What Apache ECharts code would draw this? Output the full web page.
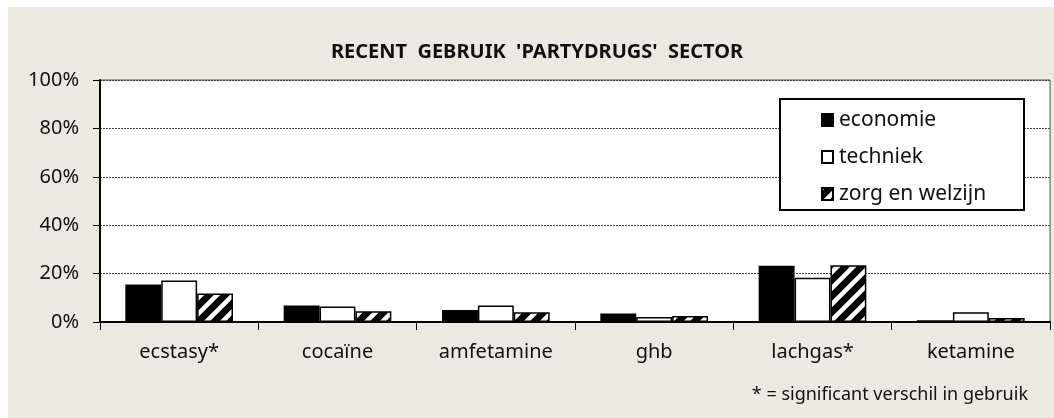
<!DOCTYPE html>
<html>
<head>
<meta charset="utf-8">
<style>
  html, body { margin: 0; padding: 0; background: #ffffff; }
  #chart { width: 1054px; height: 418px; }
</style>
<script src="https://cdn.jsdelivr.net/npm/echarts@6/dist/echarts.min.js"></script>
</head>
<body>
<div id="chart"></div>
<script>
// Drugs (categories) and recent-use share per sector, in percent
var categories = ['ecstasy*', 'cocaïne', 'amfetamine', 'ghb', 'lachgas*', 'ketamine'];
var economie = [15.5, 6.8, 5.0, 3.5, 23.2, 0.7];
var techniek = [17.1, 6.4, 6.8, 2.1, 18.3, 4.0];
var zorgEnWelzijn = [11.8, 4.4, 4.0, 2.5, 23.5, 1.7];
var seriesNames = ['economie', 'techniek', 'zorg en welzijn'];
var yTicks = [0, 20, 40, 60, 80, 100];

var FONT = '"Noto Sans", "Open Sans", sans-serif';

// Black fill with white diagonal stripes
function stripePattern() {
  var size = 16;
  var c = document.createElement('canvas');
  c.width = size; c.height = size;
  var g = c.getContext('2d');
  g.fillStyle = '#000';
  g.fillRect(0, 0, size, size);
  g.strokeStyle = '#fff';
  g.lineWidth = 4.5;
  g.beginPath();
  for (var k = -1; k <= 1; k++) {
    g.moveTo(k * size - 2, size + 2);
    g.lineTo(k * size + size + 2, -2);
  }
  g.stroke();
  return { image: c, repeat: 'repeat' };
}

var chart = echarts.init(document.getElementById('chart'));

var barBorder = { borderColor: '#000', borderWidth: 1.5 };

chart.setOption({
  backgroundColor: '#ffffff',
  animation: false,
  graphic: [
    {
      type: 'rect', z: -10, silent: true,
      shape: { x: 8, y: 7, width: 1046, height: 411 },
      style: { fill: '#ECE9E0' }
    },
    {
      // legend frame
      type: 'rect', z: 5, silent: true,
      shape: { x: 780, y: 99, width: 244, height: 111 },
      style: { fill: '#fff', stroke: '#000', lineWidth: 2 }
    },
    {
      type: 'text', right: 26, top: 386,
      style: {
        text: '* = significant verschil in gebruik',
        font: '18px ' + FONT, fill: '#111'
      }
    }
  ],
  title: {
    text: "RECENT  GEBRUIK  'PARTYDRUGS'  SECTOR",
    left: 532, top: 37, textAlign: 'center',
    textStyle: { fontFamily: FONT, fontSize: 20, fontWeight: 'bold', color: '#111' }
  },
  legend: {
    orient: 'vertical',
    left: 821, top: 109,
    padding: 0,
    itemGap: 15,
    itemWidth: 11, itemHeight: 12,
    icon: 'rect',
    z: 10,
    textStyle: { fontFamily: FONT, fontSize: 21, color: '#111', lineHeight: 22, padding: [0, 0, 0, 1] },
    data: seriesNames
  },
  grid: {
    left: 100, right: 4, top: 80, bottom: 96,
    show: true, backgroundColor: '#fff', borderColor: '#555', borderWidth: 1
  },
  xAxis: {
    type: 'category',
    data: categories,
    axisLine: { lineStyle: { color: '#000', width: 2 } },
    axisTick: { show: true, length: 8, lineStyle: { color: '#000', width: 1 } },
    axisLabel: { fontFamily: FONT, fontSize: 20, color: '#111', margin: 20 }
  },
  yAxis: {
    type: 'value',
    min: yTicks[0], max: yTicks[yTicks.length - 1], interval: 20,
    axisLine: { show: true, lineStyle: { color: '#000', width: 2 } },
    axisTick: { show: true, length: 7, lineStyle: { color: '#000', width: 1 } },
    axisLabel: { fontFamily: FONT, fontSize: 20, color: '#111', margin: 21, formatter: '{value}%' },
    splitLine: { show: true, lineStyle: { color: '#444', type: [2, 1], width: 1 } }
  },
  series: [
    {
      name: seriesNames[0], type: 'bar', data: economie,
      barGap: '0%', barCategoryGap: '32%',
      itemStyle: Object.assign({ color: '#000' }, barBorder)
    },
    {
      name: seriesNames[1], type: 'bar', data: techniek,
      itemStyle: Object.assign({ color: '#fff' }, barBorder)
    },
    {
      name: seriesNames[2], type: 'bar', data: zorgEnWelzijn,
      itemStyle: Object.assign({ color: stripePattern() }, barBorder)
    }
  ]
});
</script>
</body>
</html>
